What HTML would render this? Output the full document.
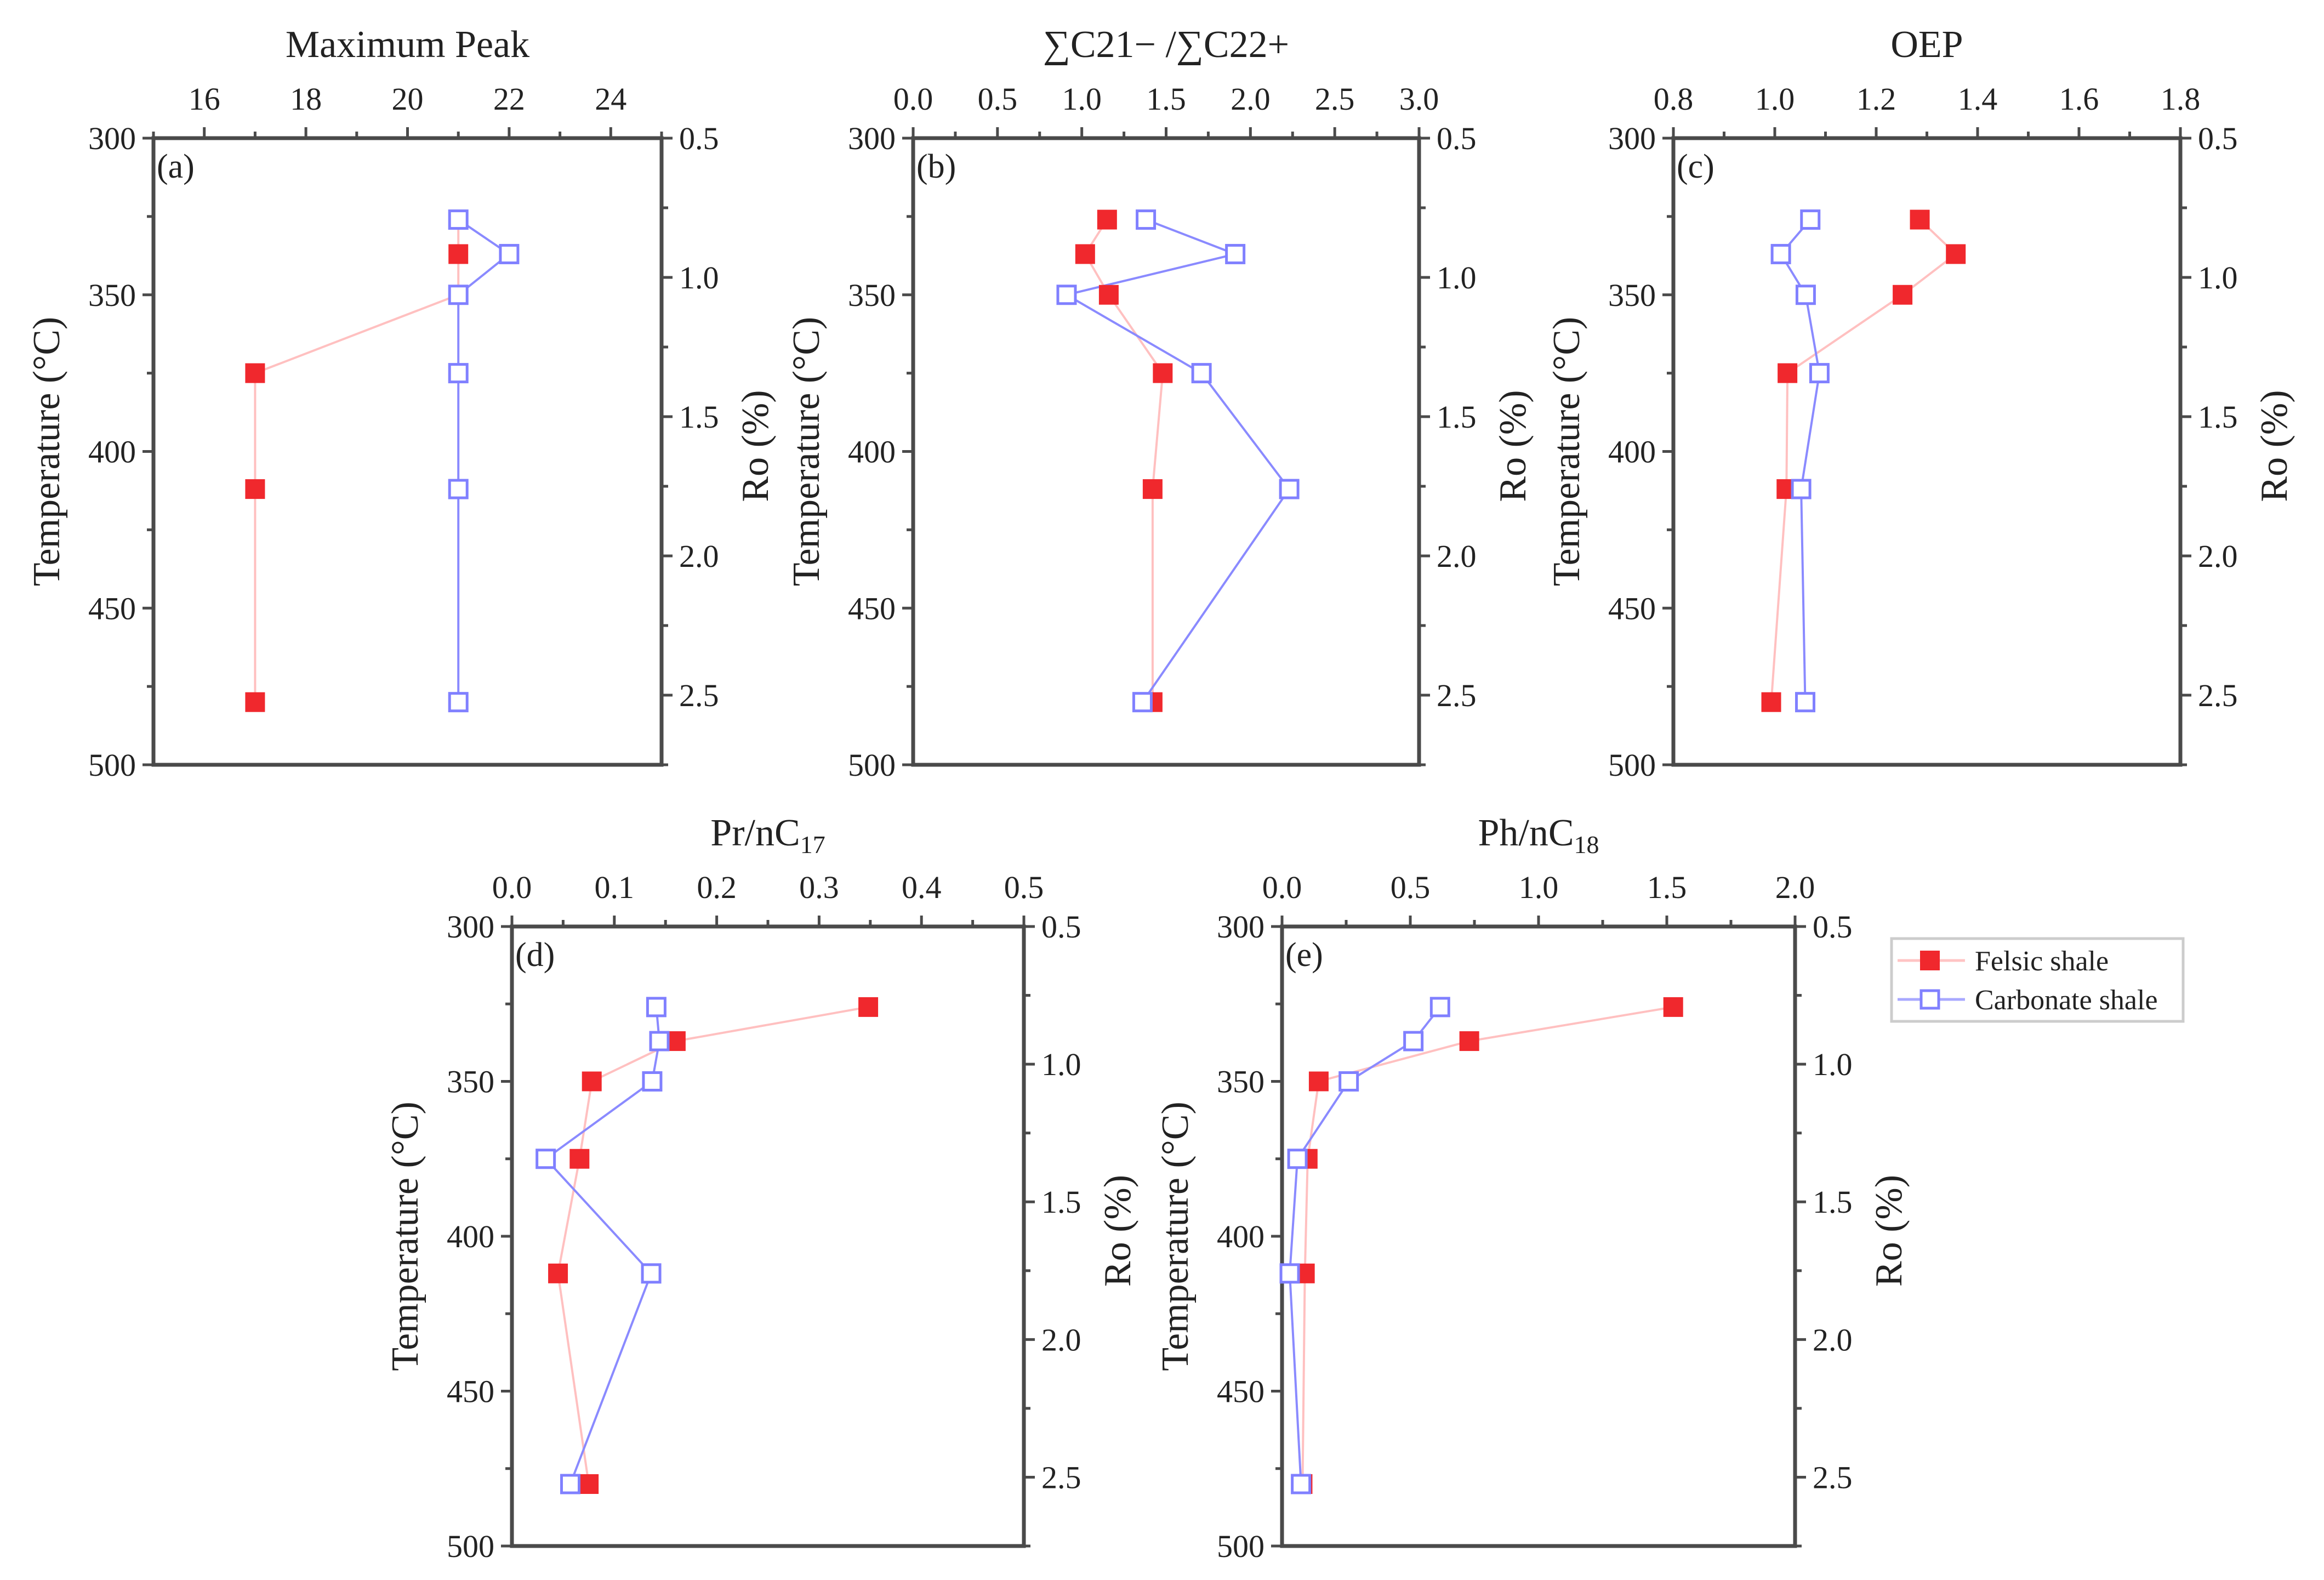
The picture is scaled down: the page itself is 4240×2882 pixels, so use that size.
<!DOCTYPE html>
<html><head><meta charset="utf-8"><style>
html,body{margin:0;padding:0;background:#fff;}
svg{display:block;}
text{font-family:"Liberation Serif",serif;fill:#222;}
</style></head><body>
<svg id="fig" width="4240" height="2882" viewBox="0 0 4240 2882" xmlns="http://www.w3.org/2000/svg">
<rect width="4240" height="2882" fill="#fff"/>
<g>
<rect x="3451" y="1712" width="532" height="151" fill="#fff" stroke="#ccc" stroke-width="5"/>
<g>
<line x1="3462" y1="1752" x2="3585" y2="1752" stroke="#ffc4c4" stroke-width="5"/>
<rect x="3503" y="1734" width="36" height="36" fill="#f0282d"/>
<text x="3603" y="1770" font-size="52">Felsic shale</text>
</g>
<g>
<line x1="3462" y1="1823" x2="3585" y2="1823" stroke="#a8a8ff" stroke-width="5"/>
<rect x="3505" y="1807" width="32" height="32" fill="#fff" stroke="#8080ff" stroke-width="5"/>
<text x="3603" y="1841" font-size="52">Carbonate shale</text>
</g>
</g>
</svg>
<script>
// shared temperature categories (°C)
const temps = [326, 337, 350, 375, 412, 480];
// panel (a) Maximum Peak
const aFelsic = [21, 21, 21, 17, 17, 17];
const aCarb = [21, 22, 21, 21, 21, 21];
const aTicks = [16, 18, 20, 22, 24];
// panel (b) ΣC21-/ΣC22+
const bFelsic = [1.15, 1.02, 1.16, 1.48, 1.42, 1.42];
const bCarb = [1.38, 1.91, 0.91, 1.71, 2.23, 1.36];
const bTicks = [0, 0.5, 1.0, 1.5, 2.0, 2.5, 3.0];
// panel (c) OEP
const cFelsic = [1.286, 1.357, 1.252, 1.025, 1.023, 0.993];
const cCarb = [1.07, 1.012, 1.061, 1.088, 1.052, 1.06];
const cTicks = [0.8, 1.0, 1.2, 1.4, 1.6, 1.8];
// panel (d) Pr/nC17
const dFelsic = [0.348, 0.160, 0.078, 0.066, 0.045, 0.075];
const dCarb = [0.141, 0.144, 0.137, 0.033, 0.136, 0.057];
const dTicks = [0, 0.1, 0.2, 0.3, 0.4, 0.5];
// panel (e) Ph/nC18
const eFelsic = [1.525, 0.73, 0.143, 0.10, 0.089, 0.08];
const eCarb = [0.616, 0.512, 0.26, 0.06, 0.03, 0.074];
const eTicks = [0, 0.5, 1.0, 1.5, 2.0];
// axes ticks
const tempTicks = [300, 350, 400, 450, 500];
const roTicks = [0.5, 1.0, 1.5, 2.0, 2.5];

const NS = "http://www.w3.org/2000/svg";
const svg = document.getElementById('fig');
const legend = svg.lastElementChild;
function mk(tag, attrs, parent) {
  const e = document.createElementNS(NS, tag);
  for (const k in attrs) e.setAttribute(k, attrs[k]);
  parent.appendChild(e);
  return e;
}
const AX = "#4a4a4a";
function panel(cfg) {
  const g = mk('g', {}, svg);
  svg.insertBefore(g, legend);
  
  
  const L = cfg.x0, R = cfg.x1, T = cfg.y0, B = cfg.y1;
  const xs = v => L + (v - cfg.min) / (cfg.max - cfg.min) * (R - L);
  const ys = t => T + (t - 300) / 200 * (B - T);
  const ro = r => T + (r - 0.5) / 2.25 * (B - T);
  const fr = mk('rect', {x: L, y: T, width: R - L, height: B - T, fill: 'none', stroke: AX, 'stroke-width': 7}, g);
  
  
  const step = cfg.ticks[1] - cfg.ticks[0];
  for (let v = cfg.min; v <= cfg.max + 1e-9; v += step / 2) {
    const major = cfg.ticks.some(t => Math.abs(t - v) < 1e-6);
    mk('line', {x1: xs(v), x2: xs(v), y1: T, y2: T - (major ? 20 : 12), stroke: AX, 'stroke-width': 5}, g);
  }
  cfg.ticks.forEach(v => {
    const t = mk('text', {x: xs(v), y: T - 52, 'font-size': 58, 'text-anchor': 'middle'}, g);
    t.textContent = cfg.fmt(v);
    
    
  });
  for (let t = 300; t <= 500; t += 25) {
    const major = t % 50 === 0;
    mk('line', {x1: L, x2: L - (major ? 20 : 12), y1: ys(t), y2: ys(t), stroke: AX, 'stroke-width': 5}, g);
  }
  tempTicks.forEach(t => {
    const e = mk('text', {x: L - 32, y: ys(t) + 20, 'font-size': 58, 'text-anchor': 'end'}, g);
    e.textContent = t;
    
    
  });
  for (let r = 0.5; r <= 2.75 + 1e-9; r += 0.25) {
    const major = Math.abs(r * 2 - Math.round(r * 2)) < 1e-6;
    mk('line', {x1: R, x2: R + (major ? 20 : 12), y1: ro(r), y2: ro(r), stroke: AX, 'stroke-width': 5}, g);
  }
  roTicks.forEach(r => {
    const e = mk('text', {x: R + 32, y: ro(r) + 20, 'font-size': 58}, g);
    e.textContent = r.toFixed(1);
    
    
  });
  const cx = (L + R) / 2, cy = (T + B) / 2;
  const title = mk('text', {x: cx, y: T - 148, 'font-size': 70, 'text-anchor': 'middle'}, g);
  title.innerHTML = cfg.title;
  
  
  const yl = mk('text', {x: 0, y: 0, 'font-size': 70, 'text-anchor': 'middle', transform: `translate(${L - 172},${cy}) rotate(-90)`}, g);
  yl.textContent = 'Temperature (°C)';
  
  
  const rl = mk('text', {x: 0, y: 0, 'font-size': 70, 'text-anchor': 'middle', transform: `translate(${R + 194},${cy - 10}) rotate(-90)`}, g);
  rl.textContent = 'Ro (%)';
  
  
  const pl = mk('text', {x: L + 6, y: T + 72, 'font-size': 62}, g);
  pl.textContent = '(' + cfg.id + ')';
  
  
  const pts = arr => arr.map((v, i) => xs(v) + ',' + ys(temps[i])).join(' ');
  const fl = mk('polyline', {points: pts(cfg.felsic), fill: 'none', stroke: '#ffc0c0', 'stroke-width': 4}, g);
  
  
  const cl = mk('polyline', {points: pts(cfg.carb), fill: 'none', stroke: '#8a8aff', 'stroke-width': 4}, g);
  
  
  cfg.felsic.forEach((v, i) => {
    const m = mk('rect', {x: xs(v) - 18, y: ys(temps[i]) - 18, width: 36, height: 36, fill: '#f0282d'}, g);
    
    
  });
  cfg.carb.forEach((v, i) => {
    const m = mk('rect', {x: xs(v) - 16, y: ys(temps[i]) - 16, width: 32, height: 32, fill: '#fff', stroke: '#8080ff', 'stroke-width': 5}, g);
    
    
  });
}
const f1 = v => v.toFixed(1);
panel({id: 'a', x0: 280, x1: 1207, y0: 252, y1: 1395, min: 15, max: 25, ticks: aTicks, fmt: v => String(v), title: 'Maximum Peak', felsic: aFelsic, carb: aCarb});
panel({id: 'b', x0: 1666, x1: 2589, y0: 252, y1: 1395, min: 0, max: 3, ticks: bTicks, fmt: f1, title: '∑C21− /∑C22+', felsic: bFelsic, carb: bCarb});
panel({id: 'c', x0: 3053, x1: 3978, y0: 252, y1: 1395, min: 0.8, max: 1.8, ticks: cTicks, fmt: f1, title: 'OEP', felsic: cFelsic, carb: cCarb});
panel({id: 'd', x0: 934, x1: 1868, y0: 1690, y1: 2820, min: 0, max: 0.5, ticks: dTicks, fmt: f1, title: 'Pr/nC<tspan font-size="46" dy="14">17</tspan>', felsic: dFelsic, carb: dCarb});
panel({id: 'e', x0: 2339, x1: 3275, y0: 1690, y1: 2820, min: 0, max: 2, ticks: eTicks, fmt: f1, title: 'Ph/nC<tspan font-size="46" dy="14">18</tspan>', felsic: eFelsic, carb: eCarb});
</script>
</body></html>
